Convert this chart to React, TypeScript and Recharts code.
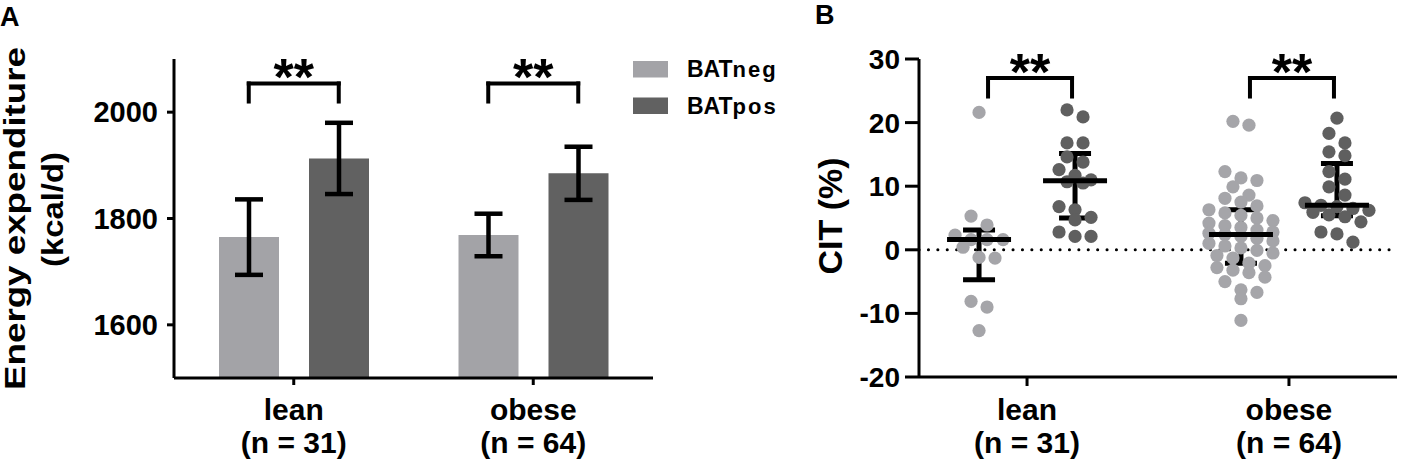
import React from 'react';
import {
  ComposedChart,
  Bar,
  ErrorBar,
  XAxis,
  YAxis,
  ReferenceLine,
  ScatterChart,
  Scatter,
} from 'recharts';

const FONT = '"Liberation Sans", Arial, Helvetica, sans-serif';

// ---------------- Panel A data ----------------
const CATEGORIES = ['lean', 'obese'];
const N_LABELS = ['(n = 31)', '(n = 64)'];
const SERIES_NAMES = ['BAT', 'BAT'];
const SERIES_SUBS = ['neg', 'pos'];
const EE_NEG_MEAN = [1765, 1769];
const EE_NEG_SEM = [71, 40];
const EE_POS_MEAN = [1913, 1885];
const EE_POS_SEM = [67, 50];
const EE_TICKS = [1600, 1800, 2000];
const EE_DOMAIN = [1500, 2100];
const EE_BRACKET = [2054, 2020];
const SIG_LABELS = ['**', '**'];

// ---------------- Panel B data ----------------
const CIT_TICKS = [-20, -10, 0, 10, 20, 30];
const CIT_DOMAIN = [-20, 30];
const CIT_BRACKET = [27, 24.1];
const CIT_LEAN_NEG = [21.6, 5.3, 3.9, 2.3, 1.6, 1.6, 1.6, 0.4, -1.2, -1.3, -8.1, -9.0, -12.7];
const CIT_LEAN_POS = [22.0, 20.9, 16.8, 16.8, 14.6, 13.8, 12.6, 11.7, 11.0, 10.7, 10.5, 6.8, 6.3, 5.1, 4.7, 2.8, 2.1, 2.1];
const CIT_OBESE_NEG = [
  20.2, 19.6, 12.3, 11.3, 10.9, 9.9, 8.6, 8.1, 7.5, 6.9, 6.3, 5.8, 5.4, 5.0, 4.6, 4.2, 3.8, 3.5, 3.1, 2.8, 2.6, 2.4,
  2.1, 1.8, 1.4, 1.0, 0.6, 0.3, -0.1, -0.5, -0.9, -1.3, -2.1, -2.5, -2.8, -3.2, -3.6, -4.3, -5.0, -6.3, -6.7, -7.7, -11.1,
];
const CIT_OBESE_POS = [20.7, 18.3, 16.8, 15.4, 14.8, 12.3, 11.1, 9.9, 8.6, 7.4, 7.0, 6.8, 6.5, 6.2, 5.9, 5.5, 5.2, 4.4, 2.8, 2.5, 1.2];

// ---------------- Styles / layout ----------------
const NEG_COLOR = '#a3a3a7';
const POS_COLOR = '#616161';
const DOT_NEG = '#a5a5a9';
const DOT_POS = '#5f5f5f';

const H = 464;
// panel A
const W_A = 820;
const A_LEFT = 174;
const A_TOP = 59;
const A_XAXIS_H = 86;
const A_RIGHT = 167;
const BAR_SIZE = 60;
const BAR_GAP = 30;
const A_BAND = (W_A - A_LEFT - A_RIGHT) / CATEGORIES.length;
const A_SUB = (BAR_SIZE + BAR_GAP) / 2 / A_BAND;
// panel B
const B_X0 = 820;
const W_B = 584;
const B_LEFT = 99;
const B_TOP = 59;
const B_XAXIS_H = 87;
const B_RIGHT = 7;
const GROUP_X = [1, 3];
const B_XDOMAIN = [0.175, 3.825];
const PX_PER_X = (W_B - B_LEFT - B_RIGHT) / (B_XDOMAIN[1] - B_XDOMAIN[0]);
const PX_PER_Y = (H - B_TOP - B_XAXIS_H) / (CIT_DOMAIN[1] - CIT_DOMAIN[0]);
const B_SUB = 48 / PX_PER_X;
const B_BRACKET_INSET_L = 9 / PX_PER_X;
const B_BRACKET_INSET_R = 3 / PX_PER_X;
const DOT_R = 6.6;
const ROW_PX = 11;
const STEP_PX = 16;
const MAX_ROW = 5;

const chartDataA = CATEGORIES.map((c, i) => ({
  group: c,
  neg: EE_NEG_MEAN[i],
  negErr: EE_NEG_SEM[i],
  pos: EE_POS_MEAN[i],
  posErr: EE_POS_SEM[i],
}));
// invisible anchors that give the hidden numeric x axis (used for brackets) its extent
const anchorA = [
  { nx: 0, ny: EE_DOMAIN[0] },
  { nx: CATEGORIES.length, ny: EE_DOMAIN[0] },
];

// beeswarm layout (rows of nearby values spread symmetrically)
function swarm(values: number[], center: number) {
  const sorted = [...values].sort((a, b) => b - a);
  const rows: number[][] = [];
  let cur: number[] = [];
  for (const v of sorted) {
    if (cur.length && ((cur[0] - v) * PX_PER_Y > ROW_PX || cur.length >= MAX_ROW)) {
      rows.push(cur);
      cur = [];
    }
    cur.push(v);
  }
  if (cur.length) rows.push(cur);
  const pts: { x: number; y: number }[] = [];
  rows.forEach((row) => {
    row.forEach((v, i) => {
      pts.push({ x: center + ((i - (row.length - 1) / 2) * STEP_PX) / PX_PER_X, y: v });
    });
  });
  return pts;
}

function quantile(values: number[], p: number) {
  const s = [...values].sort((a, b) => a - b);
  const n = s.length;
  const pos = (n + 1) * p;
  const lo = Math.floor(pos);
  const frac = pos - lo;
  const a = s[Math.min(Math.max(lo - 1, 0), n - 1)];
  const b = s[Math.min(Math.max(lo, 0), n - 1)];
  return a + frac * (b - a);
}

function summary(values: number[], x: number) {
  const med = quantile(values, 0.5);
  const q1 = quantile(values, 0.25);
  const q3 = quantile(values, 0.75);
  return { x, y: med, err: [med - q1, q3 - med] };
}

const negDots = [
  ...swarm(CIT_LEAN_NEG, GROUP_X[0] - B_SUB),
  ...swarm(CIT_OBESE_NEG, GROUP_X[1] - B_SUB),
];
const posDots = [
  ...swarm(CIT_LEAN_POS, GROUP_X[0] + B_SUB),
  ...swarm(CIT_OBESE_POS, GROUP_X[1] + B_SUB),
];
const summaries = [
  summary(CIT_LEAN_NEG, GROUP_X[0] - B_SUB),
  summary(CIT_LEAN_POS, GROUP_X[0] + B_SUB),
  summary(CIT_OBESE_NEG, GROUP_X[1] - B_SUB),
  summary(CIT_OBESE_POS, GROUP_X[1] + B_SUB),
];

const textStyle = { fontFamily: FONT, fontWeight: 'bold' as const, fill: '#000' };

const makeCatTick = (lookup: (v: any) => number, d1: number) => (props: any) => {
  const { x, y, payload } = props;
  const i = lookup(payload.value);
  return (
    <g>
      <text x={x} y={y + d1} textAnchor="middle" fontSize={30} {...textStyle}>
        {CATEGORIES[i]}
      </text>
      <text x={x} y={y + d1 + 33} textAnchor="middle" fontSize={30} {...textStyle}>
        {N_LABELS[i]}
      </text>
    </g>
  );
};

const TickA = makeCatTick((v) => CATEGORIES.indexOf(v), 33);
const TickB = makeCatTick((v) => GROUP_X.indexOf(v), 32);

const starsLabel = (i: number) => (props: any) => {
  const vb = props.viewBox || {};
  return (
    <text x={vb.x + vb.width / 2} y={vb.y + 12} textAnchor="middle" fontSize={52} {...textStyle}>
      {SIG_LABELS[i]}
    </text>
  );
};

const lineProps = { stroke: '#000', strokeWidth: 4, strokeLinecap: 'square' as const };

function bracket(
  key: string,
  l: number,
  r: number,
  top: number,
  tip: number,
  i: number,
  xAxisId: any
) {
  return [
    <ReferenceLine key={key + 'l'} xAxisId={xAxisId} segment={[{ x: l, y: tip }, { x: l, y: top }]} {...lineProps} />,
    <ReferenceLine
      key={key + 'h'}
      xAxisId={xAxisId}
      segment={[{ x: l, y: top }, { x: r, y: top }]}
      {...lineProps}
      label={starsLabel(i)}
    />,
    <ReferenceLine key={key + 'r'} xAxisId={xAxisId} segment={[{ x: r, y: top }, { x: r, y: tip }]} {...lineProps} />,
  ];
}

const axisLine = { stroke: '#000', strokeWidth: 3 };

function PanelA() {
  return (
    <ComposedChart
      width={W_A}
      height={H}
      data={chartDataA}
      margin={{ top: A_TOP, right: A_RIGHT, bottom: 0, left: 0 }}
      barGap={BAR_GAP}
    >
      <XAxis
        xAxisId="cat"
        dataKey="group"
        type="category"
        height={A_XAXIS_H}
        axisLine={axisLine}
        tickLine={axisLine}
        tickSize={7}
        tick={<TickA />}
        interval={0}
      />
      <XAxis
        xAxisId="num"
        dataKey="nx"
        type="number"
        domain={[0, CATEGORIES.length]}
        hide
        height={0}
        allowDataOverflow
      />
      <YAxis
        width={A_LEFT}
        domain={EE_DOMAIN}
        ticks={EE_TICKS}
        allowDataOverflow
        axisLine={axisLine}
        tickLine={axisLine}
        tickSize={7}
        tickMargin={9}
        tick={{ fontSize: 29, ...textStyle }}
      />
      <Bar xAxisId="cat" dataKey="neg" name="BATneg" fill={NEG_COLOR} barSize={BAR_SIZE} isAnimationActive={false}>
        <ErrorBar dataKey="negErr" direction="y" width={14} stroke="#000" strokeWidth={4.5} isAnimationActive={false} />
      </Bar>
      <Bar xAxisId="cat" dataKey="pos" name="BATpos" fill={POS_COLOR} barSize={BAR_SIZE} isAnimationActive={false}>
        <ErrorBar dataKey="posErr" direction="y" width={14} stroke="#000" strokeWidth={4.5} isAnimationActive={false} />
      </Bar>
      <Scatter
        xAxisId="num"
        data={anchorA}
        dataKey="ny"
        isAnimationActive={false}
        legendType="none"
        shape={() => <g />}
      />
      {CATEGORIES.flatMap((c, i) =>
        bracket('a' + c, i + 0.5 - A_SUB, i + 0.5 + A_SUB, EE_BRACKET[0], EE_BRACKET[1], i, 'num')
      )}
    </ComposedChart>
  );
}

function PanelB() {
  return (
    <ScatterChart width={W_B} height={H} margin={{ top: B_TOP, right: B_RIGHT, bottom: 0, left: 0 }}>
      <XAxis
        dataKey="x"
        type="number"
        domain={B_XDOMAIN}
        ticks={GROUP_X}
        allowDataOverflow
        height={B_XAXIS_H}
        axisLine={axisLine}
        tickLine={axisLine}
        tickSize={9}
        tick={<TickB />}
        interval={0}
      />
      <YAxis
        dataKey="y"
        type="number"
        width={B_LEFT}
        domain={CIT_DOMAIN}
        ticks={CIT_TICKS}
        allowDataOverflow
        axisLine={axisLine}
        tickLine={axisLine}
        tickSize={14}
        tickMargin={5}
        tick={{ fontSize: 28, ...textStyle }}
        interval={0}
      />
      <ReferenceLine y={0} stroke="#000" strokeWidth={3} strokeDasharray="0.1 9.3" strokeLinecap="round" />
      <Scatter
        name="BATneg"
        data={negDots}
        isAnimationActive={false}
        shape={(p: any) => <circle cx={p.cx} cy={p.cy} r={DOT_R} fill={DOT_NEG} />}
      />
      <Scatter
        name="BATpos"
        data={posDots}
        isAnimationActive={false}
        shape={(p: any) => <circle cx={p.cx} cy={p.cy} r={DOT_R} fill={DOT_POS} />}
      />
      <Scatter
        name="median"
        data={summaries}
        isAnimationActive={false}
        shape={(p: any) => (
          <line x1={p.cx - 32} x2={p.cx + 32} y1={p.cy} y2={p.cy} stroke="#000" strokeWidth={5} />
        )}
      >
        <ErrorBar dataKey="err" direction="y" width={16} stroke="#000" strokeWidth={5} isAnimationActive={false} />
      </Scatter>
      {CATEGORIES.flatMap((c, i) =>
        bracket(
          'b' + c,
          GROUP_X[i] - B_SUB + B_BRACKET_INSET_L,
          GROUP_X[i] + B_SUB - B_BRACKET_INSET_R,
          CIT_BRACKET[0],
          CIT_BRACKET[1],
          i,
          0
        )
      )}
    </ScatterChart>
  );
}

function Overlay() {
  const legendColors = [NEG_COLOR, POS_COLOR];
  return (
    <svg
      width={1404}
      height={H}
      style={{ position: 'absolute', left: 0, top: 0, pointerEvents: 'none' }}
    >
      <text x={0} y={26} fontSize={27} {...textStyle}>A</text>
      <text x={815} y={24} fontSize={27} {...textStyle}>B</text>
      <text
        transform="translate(25, 218.5) rotate(-90)"
        textAnchor="middle"
        fontSize={29}
        textLength={343}
        lengthAdjust="spacingAndGlyphs"
        {...textStyle}
      >
        Energy expenditure
      </text>
      <text
        transform="translate(63, 209.5) rotate(-90)"
        textAnchor="middle"
        fontSize={29}
        textLength={115}
        lengthAdjust="spacingAndGlyphs"
        {...textStyle}
      >
        (kcal/d)
      </text>
      <text transform="translate(842, 216) rotate(-90)" textAnchor="middle" fontSize={34} {...textStyle}>
        CIT (%)
      </text>
      {SERIES_NAMES.map((s, i) => (
        <g key={i}>
          <rect x={633} y={61 + i * 36.5} width={35} height={16.5} fill={legendColors[i]} />
          <text x={687} y={77 + i * 36.5} fontSize={23} {...textStyle}>
            {s}
            <tspan fontSize={22} letterSpacing={2}>{SERIES_SUBS[i]}</tspan>
          </text>
        </g>
      ))}
    </svg>
  );
}

export default function App() {
  return (
    <div style={{ position: 'absolute', left: 0, top: 0, width: 1404, height: H, background: '#fff' }}>
      <div style={{ position: 'absolute', left: 0, top: 0 }}>
        <PanelA />
      </div>
      <div style={{ position: 'absolute', left: B_X0, top: 0 }}>
        <PanelB />
      </div>
      <Overlay />
    </div>
  );
}
